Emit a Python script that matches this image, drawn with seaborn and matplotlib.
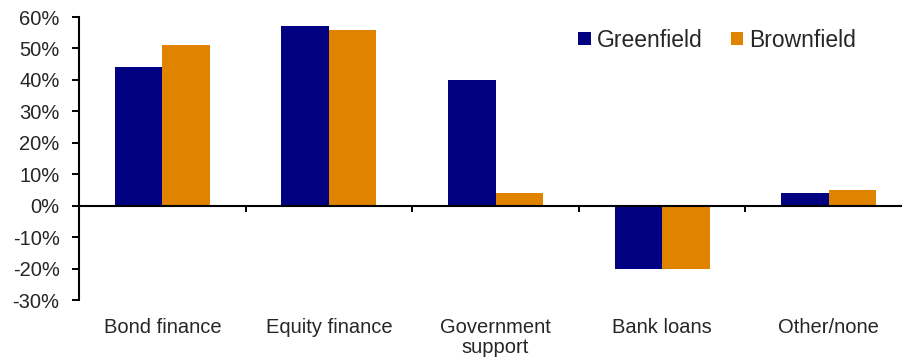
import matplotlib
matplotlib.use("Agg")
import matplotlib.pyplot as plt
import seaborn as sns
import pandas as pd
from matplotlib.ticker import FuncFormatter, FixedLocator
from matplotlib.patches import Patch

categories = ["Bond finance", "Equity finance", "Government\nsupport", "Bank loans", "Other/none"]
greenfield = [44, 57, 40, -20, 4]
brownfield = [51, 56, 4, -20, 5]
series_names = ["Greenfield", "Brownfield"]
colors = ["#000080", "#E08400"]
y_ticks = [-30, -20, -10, 0, 10, 20, 30, 40, 50, 60]

df = pd.DataFrame({
    "category": categories * 2,
    "value": greenfield + brownfield,
    "type": [series_names[0]] * len(categories) + [series_names[1]] * len(categories),
})

sns.set_style("white")
plt.rcParams["font.family"] = ["Liberation Sans", "DejaVu Sans"]

fig = plt.figure(figsize=(9.03, 3.59), dpi=100)
ax = fig.add_axes([0.0875, 0.1643, 0.9225, 0.7883])

sns.barplot(data=df, x="category", y="value", hue="type", palette=colors,
            width=0.57, saturation=1, linewidth=0, ax=ax, legend=False)

ax.set_ylim(-30, 60)
ax.set_xlim(-0.5, len(categories) - 0.5)
ax.yaxis.set_major_locator(FixedLocator(y_ticks))
ax.yaxis.set_major_formatter(FuncFormatter(lambda v, p: f"{v:.0f}%"))
ax.tick_params(axis="y", direction="out", length=5, width=1.4, color="black",
               labelsize=14.5, pad=9, left=True)
ax.set_xlabel("")
ax.set_ylabel("")

# category axis drawn along the zero line, with ticks between groups
for s in ["top", "right"]:
    ax.spines[s].set_visible(False)
ax.spines["left"].set_color("black")
ax.spines["left"].set_linewidth(1.5)
ax.spines["bottom"].set_position(("data", 0))
ax.spines["bottom"].set_color("black")
ax.spines["bottom"].set_linewidth(1.5)
ax.set_xticks([i + 0.5 for i in range(len(categories) - 1)])
ax.set_xticklabels([])
ax.tick_params(axis="x", direction="out", length=4, width=1.4, color="black", bottom=True)

# category names along the bottom edge
sec = ax.secondary_xaxis("bottom")
sec.set_xticks(range(len(categories)))
sec.set_xticklabels(categories, fontsize=14.5, linespacing=1.06, va="top")
sec.tick_params(length=0, pad=13)
sec.spines["bottom"].set_visible(False)

handles = [Patch(facecolor=c, edgecolor="none") for c in colors]
ax.legend(handles, series_names, loc="upper right", bbox_to_anchor=(0.958, 1.032),
          ncol=2, frameon=False, fontsize=16.5, handlelength=0.55, handleheight=0.55,
          handletextpad=0.28, columnspacing=1.2)

fig.savefig("out.png", dpi=100)
